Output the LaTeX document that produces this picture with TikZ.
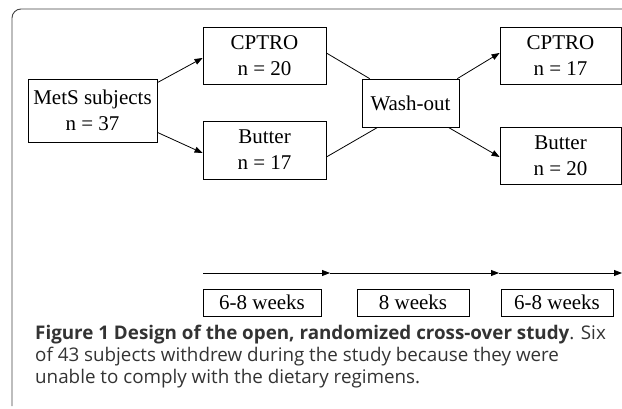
\documentclass[tikz,border=0pt]{standalone}
\usepackage{fontspec}
\setmainfont{Liberation Serif}
\newfontfamily\capfont{Open Sans}
\usetikzlibrary{arrows.meta,calc}
\definecolor{captxt}{HTML}{333333}
\definecolor{frame}{HTML}{444444}
\tikzset{
  box/.style={draw=black, line width=0.8pt, align=center, inner sep=0pt,
    font=\fontsize{21pt}{26pt}\selectfont},
  wbox/.style={draw=black, line width=0.8pt, align=center, inner sep=0pt,
    font=\fontsize{21pt}{25pt}\selectfont, minimum height=27pt},
  arr/.style={line width=0.8pt, -{Triangle[length=8pt,width=6pt]}},
  ln/.style={line width=0.8pt},
  captext/.style={anchor=base west, inner sep=0pt, text=captxt,
    font=\capfont\fontsize{18.8pt}{22pt}\selectfont}
}
\begin{document}
\begin{tikzpicture}[x=1pt,y=-1pt]
\useasboundingbox (0,0) rectangle (622,409);
% frame
\draw[frame, line width=0.9pt, rounded corners=9pt] (12,406) -- (12,9) -- (622,9);
% boxes
\node[box, minimum width=129pt, minimum height=63pt] (mets) at (92.5,110.5) {MetS subjects\\n = 37};
\node[box, minimum width=123pt, minimum height=57pt] (c1) at (264.5,55.5) {CPTRO\\n = 20};
\node[box, minimum width=123pt, minimum height=58pt] (b1) at (264.5,150) {Butter\\n = 17};
\node[box, minimum width=97pt, minimum height=48pt] (wash) at (410.5,103) {Wash-out};
\node[box, minimum width=121pt, minimum height=57pt] (c2) at (560.5,55.5) {CPTRO\\n = 17};
\node[box, minimum width=121pt, minimum height=57pt] (b2) at (560.5,155.5) {Butter\\n = 20};
% connectors
\draw[arr] ([yshift=-4pt]mets.north east) -- ([yshift=-2.5pt]c1.west);
\draw[arr] ([yshift=10pt]mets.south east) -- ([yshift=-3pt]b1.west);
\draw[ln] ([yshift=2.5pt]c1.east) -- ([xshift=8pt]wash.north west);
\draw[ln] ([yshift=-7pt]b1.east) -- ([xshift=16pt]wash.south west);
\draw[arr] ([xshift=-2pt]wash.north east) -- ([yshift=2.5pt]c2.west);
\draw[arr] ([xshift=-11pt]wash.south east) -- ([yshift=-1.5pt]b2.west);
% timeline
\coordinate (t0) at (203,273);
\coordinate (t1) at (330,273);
\coordinate (t2) at (499,273);
\coordinate (t3) at (622,273);
\draw[arr] (t0) -- (t1);
\draw[arr] (t1) -- (t2);
\draw[arr] (t2) -- (t3);
\node[wbox, minimum width=118pt] (w1) at (262,302.5) {6-8 weeks};
\node[wbox, minimum width=112pt] (w2) at (413,302.5) {8 weeks};
\node[wbox, minimum width=112pt] (w3) at (557,302.5) {6-8 weeks};
% caption
\node[captext] (cap1) at (35,339) {\textbf{Figure 1 Design of the open, randomized cross-over study}. Six};
\node[captext] (cap2) at (35,361) {of 43 subjects withdrew during the study because they were};
\node[captext] (cap3) at (35,383) {unable to comply with the dietary regimens.};
\end{tikzpicture}
\end{document}
